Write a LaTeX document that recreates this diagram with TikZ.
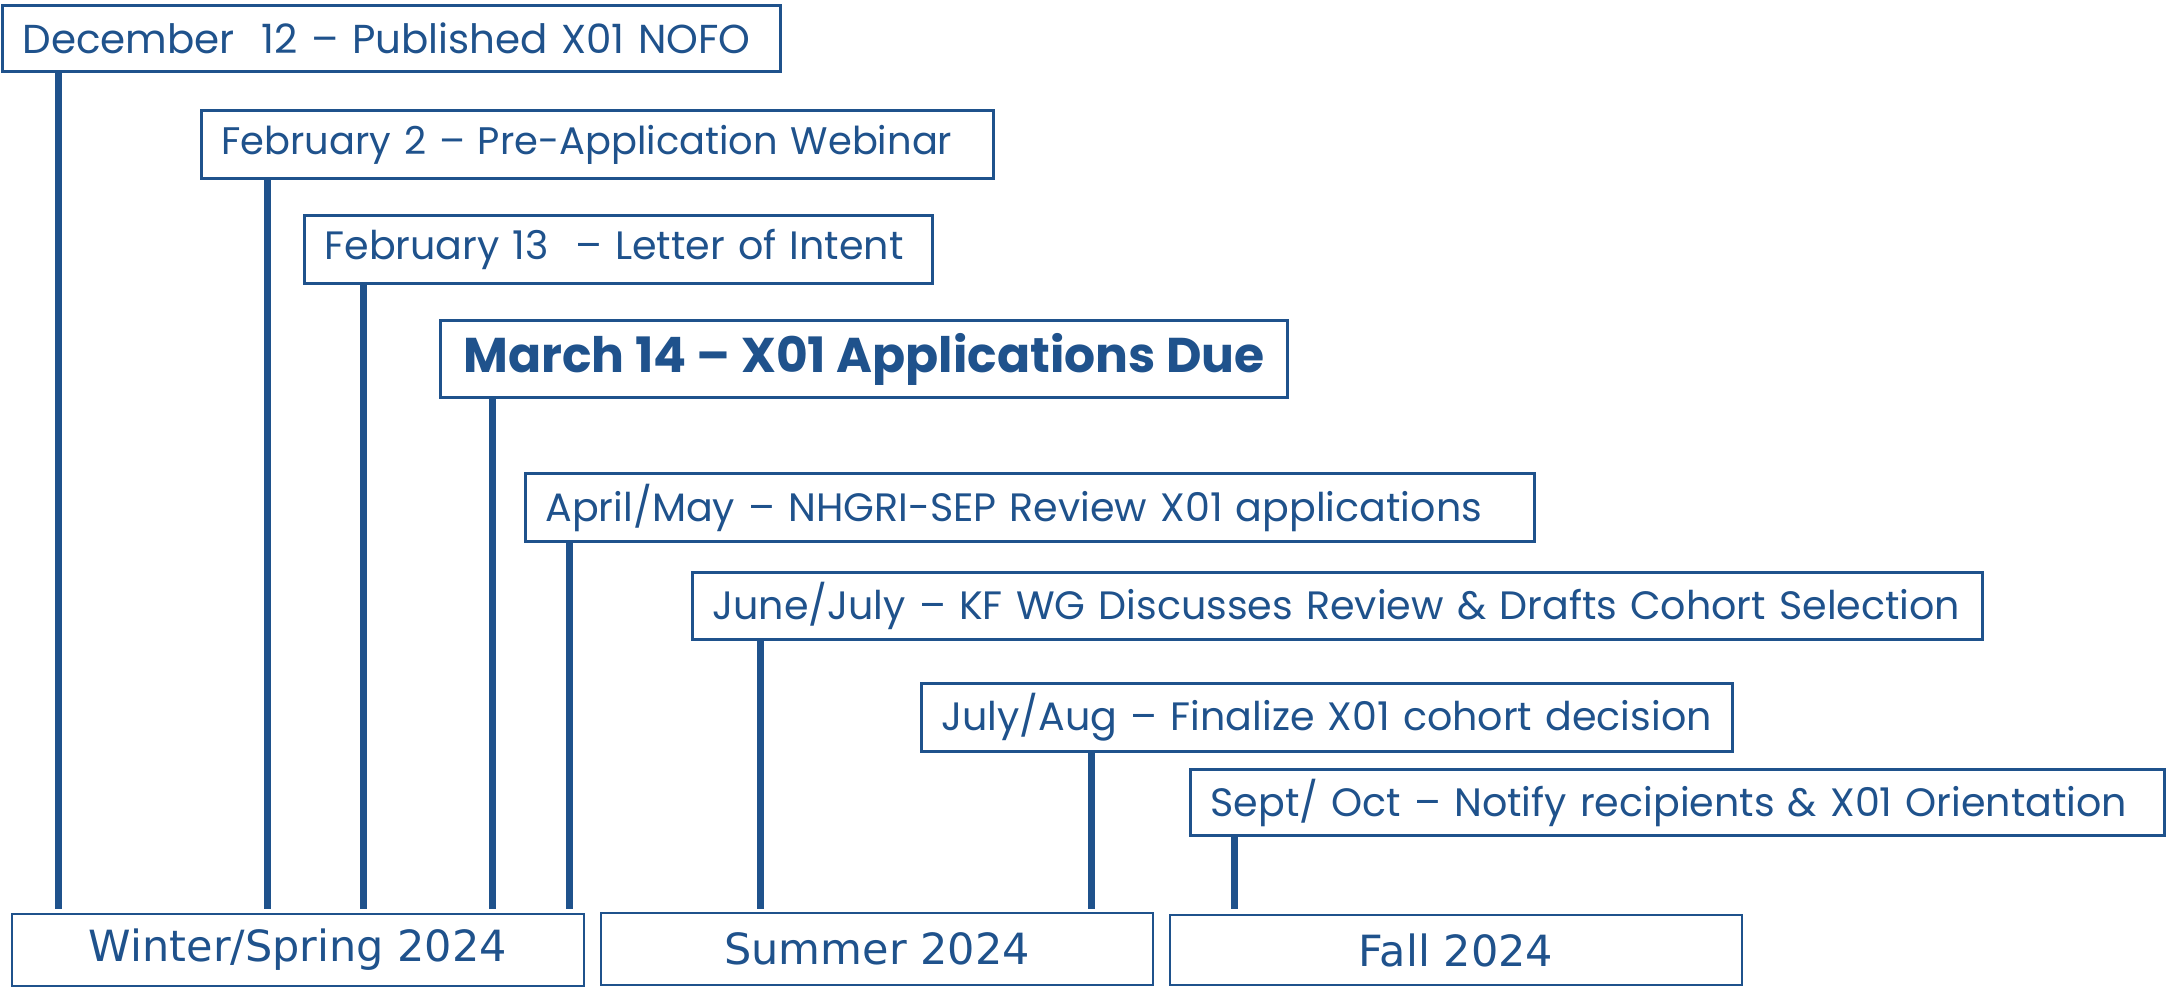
\documentclass[tikz,border=0pt]{standalone}
\usepackage{fontspec}
\setmainfont{Poppins}
\newfontfamily\dvs{DejaVu Sans}
\definecolor{nblue}{RGB}{31,82,140}
\begin{document}
\begin{tikzpicture}[x=0.5pt,y=-0.5pt,
  ev/.style={draw=nblue, line width=1.5pt, anchor=north west, inner xsep=10pt, inner ysep=0pt,
    align=left, text=nblue, font=\fontsize{19.8}{22}\selectfont},
  per/.style={draw=nblue, line width=1pt, anchor=north west, inner sep=0pt, align=center,
    text=nblue, font=\dvs\fontsize{21.5}{24}\selectfont},
  stem/.style={draw=nblue, line width=3.5pt}]
\useasboundingbox (0,0) rectangle (2166,986);
\fill[white] (0,0) rectangle (2166,986);
% events
\node[ev, minimum width=389pt, minimum height=33pt, text width=369pt, font=\fontsize{20.2}{22}\selectfont] (e1) at (1,4) {\mbox{December\ \ 12 – Published X01 NOFO}};
\node[ev, minimum width=396pt, minimum height=34pt, text width=376pt, font=\fontsize{19.2}{22}\selectfont] (e2) at (200,109) {\mbox{February 2 – Pre-Application Webinar}};
\node[ev, minimum width=314pt, minimum height=34pt, text width=294pt] (e3) at (303,214) {\mbox{February 13\ \ – Letter of Intent}};
\node[ev, minimum width=423.5pt, minimum height=38.5pt, inner xsep=0pt, align=center, font=\fontsize{24.4}{26}\selectfont\bfseries] (e4) at (439,319) {March 14 – X01 Applications Due};
\node[ev, minimum width=504.5pt, minimum height=34pt, text width=484.5pt] (e5) at (524,472) {\mbox{April/May – NHGRI-SEP Review X01 applications}};
\node[ev, minimum width=645pt, minimum height=33.5pt, text width=625pt] (e6) at (691,571) {\mbox{June/July – KF WG Discusses Review \& Drafts Cohort Selection}};
\node[ev, minimum width=405.5pt, minimum height=34pt, text width=385.5pt] (e7) at (920,682) {\mbox{July/Aug – Finalize X01 cohort decision}};
\node[ev, minimum width=487pt, minimum height=33pt, text width=467pt] (e8) at (1189,768) {\mbox{Sept/ Oct – Notify recipients \& X01 Orientation}};
% periods
\node[per, minimum width=286pt, minimum height=36pt] (p1) at (11,913) {Winter/Spring 2024};
\node[per, minimum width=276pt, minimum height=36pt] (p2) at (600,912) {Summer 2024};
\node[per, minimum width=286pt, minimum height=35pt] (p3) at (1169,914) {Fall 2024};
% stem ends
\coordinate (s1) at (58,909);
\coordinate (s2) at (267,909);
\coordinate (s3) at (363,909);
\coordinate (s4) at (492,909);
\coordinate (s5) at (569,909);
\coordinate (s6) at (760,909);
\coordinate (s7) at (1091,909);
\coordinate (s8) at (1234,909);
\draw[stem] (s1 |- e1.south) -- (s1);
\draw[stem] (s2 |- e2.south) -- (s2);
\draw[stem] (s3 |- e3.south) -- (s3);
\draw[stem] (s4 |- e4.south) -- (s4);
\draw[stem] (s5 |- e5.south) -- (s5);
\draw[stem] (s6 |- e6.south) -- (s6);
\draw[stem] (s7 |- e7.south) -- (s7);
\draw[stem] (s8 |- e8.south) -- (s8);
\end{tikzpicture}
\end{document}
